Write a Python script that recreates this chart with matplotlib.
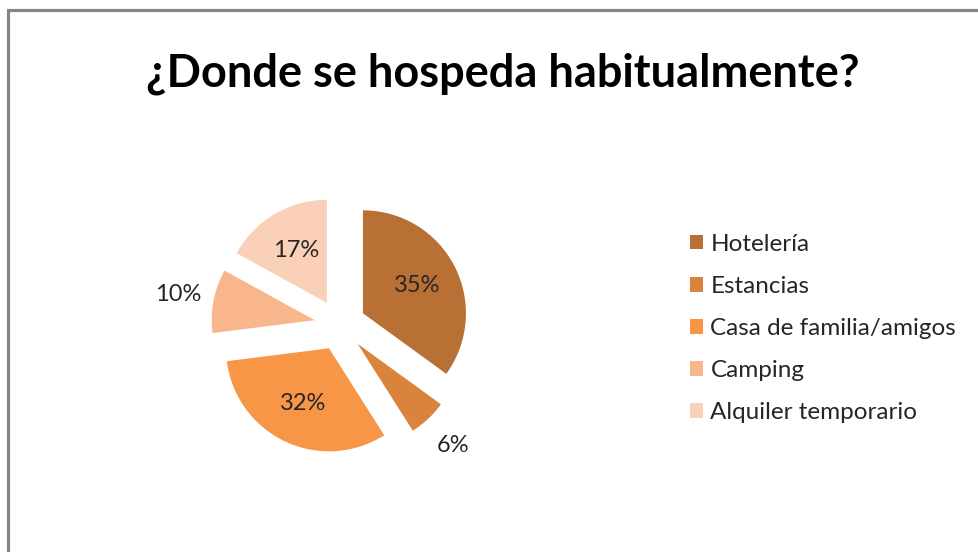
import matplotlib
matplotlib.use("Agg")
import matplotlib.pyplot as plt
import numpy as np
from matplotlib.lines import Line2D

categories = ["Hotelería", "Estancias", "Casa de familia/amigos", "Camping", "Alquiler temporario"]
values = [35, 6, 32, 10, 17]
colors = ["#B97034", "#D9833D", "#F79646", "#F9B58B", "#FBD0B8"]
title = "¿Donde se hospeda habitualmente?"

W, H = 979, 552
fig = plt.figure(figsize=(W / 100, H / 100), dpi=100)
fig.patch.set_facecolor("white")

plt.rcParams["font.family"] = ["Lato", "DejaVu Sans"]

# pie axes
cx, cy, r = 340, 325, 103
half = 1.6 * r
ax = fig.add_axes([(cx - half) / W, (H - cy - half) / H, 2 * half / W, 2 * half / H])

explode = [0.25] * len(values)
wedges, _ = ax.pie(values, colors=colors, startangle=90, counterclock=False,
                   explode=explode, radius=1.0,
                   wedgeprops=dict(linewidth=0))
ax.set_xlim(-1.6, 1.6)
ax.set_ylim(-1.6, 1.6)
ax.set_aspect("equal")
ax.axis("off")

total = float(sum(values))
for w, v in zip(wedges, values):
    ang = np.deg2rad((w.theta1 + w.theta2) / 2)
    frac = v / total
    dist = 1.6 if frac < 0.12 else 0.84
    x = np.cos(ang) * dist
    y = np.sin(ang) * dist
    ax.text(x, y, f"{v}%", ha="center", va="center", fontsize=17, color="#262626")

fig.suptitle(title, x=0.514, y=0.905, fontsize=32.5, fontweight="bold", color="black")

handles = [plt.Rectangle((0, 0), 1, 1, facecolor=c, edgecolor="none") for c in colors]
leg = fig.legend(handles, categories, loc="upper left", bbox_to_anchor=(680 / W, 1 - 224 / H),
                 frameon=False, fontsize=17.5, labelspacing=0.87, handlelength=0.55,
                 handleheight=0.55, handletextpad=0.3, borderaxespad=0)
for t in leg.get_texts():
    t.set_color("#262626")

# chart border (only left and top visible)
fig.add_artist(Line2D([8.5 / W, 8.5 / W, 1.0], [0.0, 1 - 9.5 / H, 1 - 9.5 / H],
                      transform=fig.transFigure, color="#868686", linewidth=2.3,
                      solid_joinstyle="miter"))

fig.savefig("out.png", dpi=100, facecolor="white")
